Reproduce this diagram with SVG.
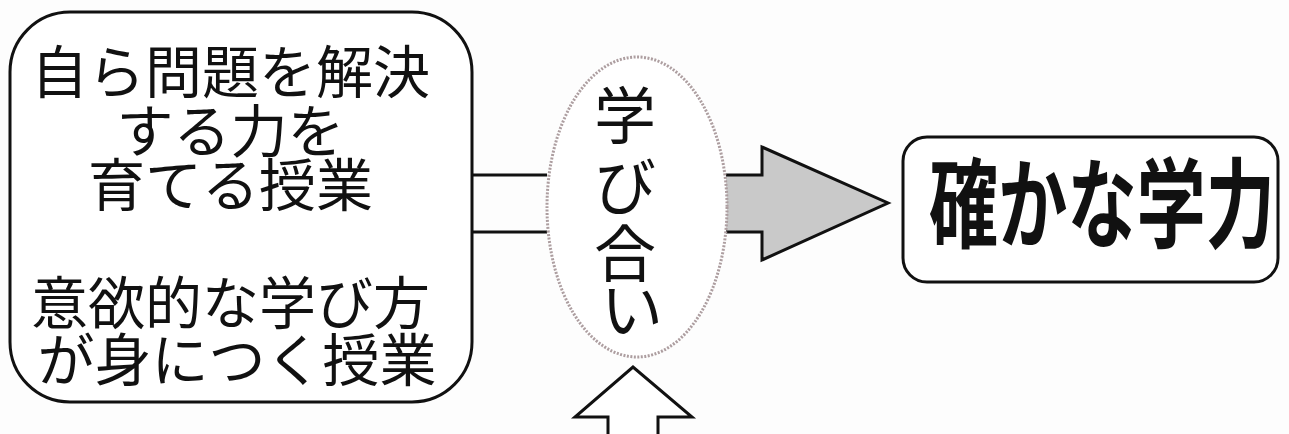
<svg xmlns="http://www.w3.org/2000/svg" width="1289" height="434" viewBox="0 0 1289 434">
<style>
.t{font-family:"Noto Sans CJK JP","Noto Sans CJK SC",sans-serif;fill:#111;}
.box{fill:#fff;stroke:#111;stroke-width:3;}
.ln{stroke:#111;stroke-width:3;fill:none;}
</style>
<rect width="1289" height="434" fill="#fdfdfd"/>
<g id="connectors">
<line class="ln" x1="472" y1="175" x2="547" y2="175"/>
<line class="ln" x1="472" y1="232" x2="547" y2="232"/>
<path d="M726,175 L762,175 L762,147 L888,203 L762,260 L762,232 L726,232" fill="#c9c9c9" stroke="#111" stroke-width="3" stroke-linejoin="miter"/>
<path d="M608,434 L608,417 L575,417 L633,367 L692,417 L658,417 L658,434" fill="#fff" stroke="#111" stroke-width="3"/>
</g>
<g id="node-left">
<rect class="box" x="10" y="12" width="462" height="390" rx="60" ry="60"/>
<text class="t" font-size="57" text-anchor="middle">
<tspan x="237" y="93">自ら問題を解決</tspan>
<tspan x="237" y="152">する力を</tspan>
<tspan x="237" y="206">育てる授業</tspan>
<tspan x="237" y="324">意欲的な学び方</tspan>
<tspan x="237" y="381">が身につく授業</tspan>
</text>
</g>
<g id="node-center">
<ellipse cx="637" cy="207" rx="90" ry="150" fill="#fff" stroke="#ad9ea0" stroke-width="3" stroke-dasharray="2 1.5"/>
<text class="t" font-size="62" text-anchor="middle">
<tspan x="632" y="139">学</tspan>
<tspan x="632" y="210">び</tspan>
<tspan x="632" y="277">合</tspan>
<tspan x="632" y="333">い</tspan>
</text>
</g>
<g id="node-right">
<rect class="box" x="903" y="137" width="375" height="145" rx="24" ry="24"/>
<text class="t" font-size="98" font-weight="700" x="929" y="240" textLength="346" lengthAdjust="spacingAndGlyphs">確かな学力</text>
</g>
</svg>
